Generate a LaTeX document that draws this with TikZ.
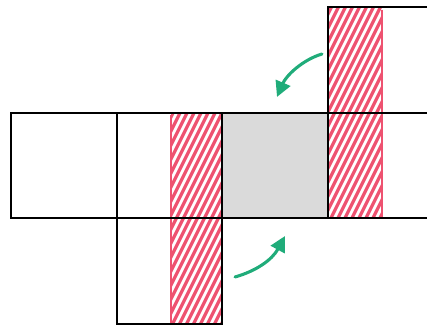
\documentclass[tikz,border=0pt]{standalone}
\usepackage{tikz}
\usetikzlibrary{arrows.meta,positioning}

\definecolor{hatchred}{RGB}{238,82,112}
\definecolor{facegrey}{RGB}{218,218,218}
\definecolor{arrowgreen}{RGB}{32,172,122}

\begin{document}
\begin{tikzpicture}[x=0.025cm,y=-0.025cm,>=Stealth,node distance=0pt,
  face/.style={draw,line width=1.4pt,minimum size=2.6375cm,inner sep=0pt,outer sep=0pt},
  hatch/.style={hatchred,line width=2.3pt,line cap=round},
  edge/.style={hatchred,line width=1.1pt},
  turn/.style={arrowgreen,line width=2.2pt,line cap=round,-{Triangle[length=11pt,width=11pt]}}]
\clip (0,0) rectangle (427,327);
% squares of the net
\node[face] (left) at (64,165.5) {};
\node[face, right=of left] (back) {};
\node[face, right=of back, fill=facegrey] (base) {};
\node[face, right=of base] (front) {};
\node[face, above=of front] (lid) {};
\node[face, below=of back] (flap) {};
% red strips
\begin{scope}
  \clip (171,113) rectangle (flap.south east);
  \foreach \k in {-160,-153,...,60}
    \draw[hatch] (171+\k,325) -- ++(130,-260);
\end{scope}
\begin{scope}
  \clip (lid.north west) rectangle (382,218);
  \foreach \k in {-160,-153,...,60}
    \draw[hatch] (329+\k,220) -- ++(130,-260);
\end{scope}
\draw[edge] (171,115) -- (171,323);
\draw[edge] (382,10) -- (382,218);
% outlines again on top
\node[face] at (back) {};
\node[face] at (base) {};
\node[face] at (front) {};
\node[face] at (lid) {};
\node[face] at (flap) {};
% turning arrows
\coordinate (t1) at (322,54);
\coordinate (h1) at (277,97);
\coordinate (t2) at (235,277);
\coordinate (h2) at (285,236);
\draw[turn] (t1) .. controls (302,60) and (286,76) .. (h1);
\draw[turn] (t2) .. controls (256,271) and (272,260) .. (h2);
\end{tikzpicture}
\end{document}
